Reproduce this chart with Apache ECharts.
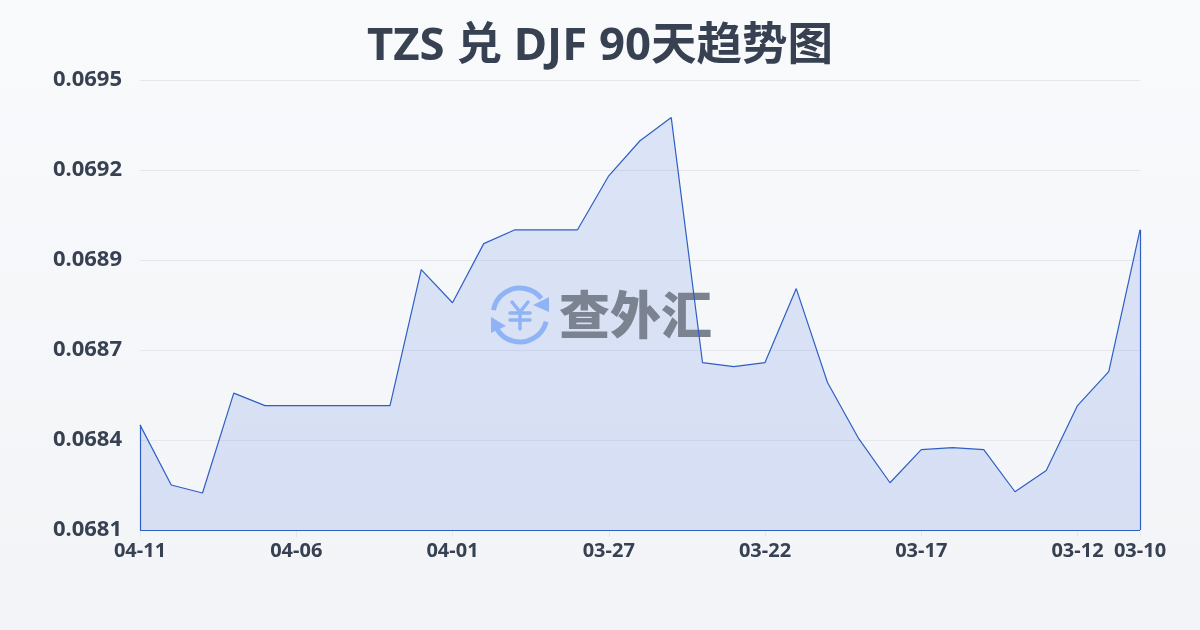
<!DOCTYPE html>
<html><head><meta charset="utf-8">
<style>html,body{margin:0;padding:0;background:#f5f7fa}#c{width:1200px;height:630px}</style>
<script src="https://cdn.jsdelivr.net/npm/echarts@6/dist/echarts.min.js"></script>
</head><body><div id="c"></div>
<script>
const titleText = 'TZS 兑 DJF 90天趋势图';
const watermarkText = '查外汇';
const dates = ['04-11','04-10','04-09','04-08','04-07','04-06','04-05','04-04','04-03','04-02','04-01','03-31','03-30','03-29','03-28','03-27','03-26','03-25','03-24','03-23','03-22','03-21','03-20','03-19','03-18','03-17','03-16','03-15','03-14','03-13','03-12','03-11','03-10'];
const rates = [0.068427,0.068240,0.068215,0.068526,0.068487,0.068487,0.068487,0.068487,0.068487,0.068910,0.068807,0.068991,0.069034,0.069034,0.069034,0.069202,0.069311,0.069383,0.068621,0.068608,0.068621,0.068851,0.068559,0.068384,0.068247,0.068350,0.068356,0.068350,0.068219,0.068285,0.068487,0.068593,0.069034];
const axisMin = 0.0681, axisMax = 0.0695, axisStep = 0.00028;
const labelIdx = [0,5,10,15,20,25,30,32];
const lineColor = '#2f5fc4';
const ink = '#374151';
const iconColor = '#8fb4f5';
const font = '"Noto Sans","Noto Sans CJK SC",sans-serif';
const chart = echarts.init(document.getElementById('c'), null, {renderer:'canvas'});
const stroke = {stroke:iconColor,fill:'none',lineWidth:3.5,lineCap:'round'};
chart.setOption({
  animation:false,
  backgroundColor:new echarts.graphic.LinearGradient(0,0,0,1,[{offset:0,color:'#f8fafc'},{offset:1,color:'#f2f4f7'}]),
  title:{text:titleText,left:'center',top:19,textStyle:{fontFamily:font,fontSize:45.5,fontWeight:700,color:ink}},
  grid:{left:140,right:60,top:80,bottom:100},
  xAxis:{type:'category',boundaryGap:false,data:dates,
    axisLine:{show:false},
    axisTick:{show:true,length:7,lineStyle:{color:'#e5e7eb'},interval:(i)=>labelIdx.includes(i)},
    axisLabel:{interval:(i)=>labelIdx.includes(i),hideOverlap:false,margin:11,fontFamily:font,fontSize:20,fontWeight:700,color:ink},
    splitLine:{show:false}},
  yAxis:{type:'value',min:axisMin,max:axisMax,interval:axisStep,
    axisLine:{show:false},axisTick:{show:false},
    axisLabel:{margin:18,padding:[0,0,4,0],fontFamily:font,fontSize:22,fontWeight:700,color:ink,formatter:v=>v.toFixed(4)},
    splitLine:{show:true,lineStyle:{color:'#e5e7eb',width:1}}},
  series:[
   {type:'line',data:rates,showSymbol:false,z:1,lineStyle:{width:0},
    areaStyle:{origin:'start',opacity:1,color:new echarts.graphic.LinearGradient(0,0,0,1,[{offset:0,color:'rgba(58,105,218,0.145)'},{offset:1,color:'rgba(58,105,218,0.155)'}])}},
   {type:'line',data:rates,showSymbol:false,z:5,
    lineStyle:{color:lineColor,width:1.2},
    markLine:{silent:true,symbol:'none',label:{show:false},lineStyle:{color:lineColor,width:1.2,type:'solid'},animation:false,
      data:[
        [{xAxis:0,yAxis:axisMin},{xAxis:0,yAxis:rates[0]}],
        [{xAxis:0,yAxis:axisMin},{xAxis:dates.length-1,yAxis:axisMin}],
        [{xAxis:dates.length-1,yAxis:axisMin},{xAxis:dates.length-1,yAxis:rates[dates.length-1]}]
      ]}
   }],
  graphic:[
    {type:'arc',z:3,silent:true,shape:{cx:520,cy:315,r:27,startAngle:-2.96,endAngle:-0.66,clockwise:true},style:{stroke:iconColor,fill:'none',lineWidth:5}},
    {type:'arc',z:3,silent:true,shape:{cx:520,cy:315,r:27,startAngle:0.25,endAngle:2.63,clockwise:true},style:{stroke:iconColor,fill:'none',lineWidth:5}},
    {type:'polygon',z:3,silent:true,shape:{points:[[549,297],[549,312],[533,305]]},style:{fill:iconColor}},
    {type:'polygon',z:3,silent:true,shape:{points:[[491,317],[491,333],[506,326]]},style:{fill:iconColor}},
    {type:'polyline',z:3,silent:true,shape:{points:[[512,302],[520,312],[528,302]]},style:stroke},
    {type:'line',z:3,silent:true,shape:{x1:510,y1:313,x2:530,y2:313},style:stroke},
    {type:'line',z:3,silent:true,shape:{x1:510,y1:320,x2:530,y2:320},style:stroke},
    {type:'line',z:3,silent:true,shape:{x1:520,y1:312,x2:520,y2:329},style:stroke},
    {type:'text',x:559,y:289,z:3,silent:true,style:{text:watermarkText,fontFamily:'"Noto Sans CJK SC"',fontSize:51,fontWeight:900,fill:'#7b8290'}}
  ]
});
</script></body></html>
